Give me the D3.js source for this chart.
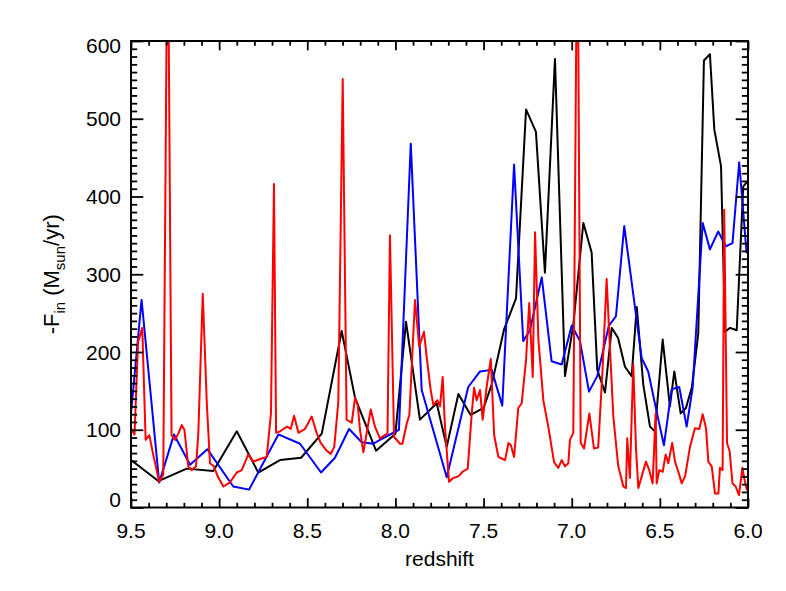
<!DOCTYPE html>
<html>
<head>
<meta charset="utf-8">
<script src="https://cdn.jsdelivr.net/npm/d3@7"></script>
<style>
  body { margin: 0; background: #fff; }
  text { font-family: "Liberation Sans", Arial, Helvetica, sans-serif; fill: #000; }
</style>
</head>
<body>
<svg id="chart"></svg>
<script>
// --- data (redshift, -F_in in Msun/yr) ---
const blackZ = [9.50, 9.345, 9.184, 9.033, 8.90, 8.778, 8.655, 8.535, 8.418, 8.305, 8.229, 8.110, 8.00, 7.94, 7.861, 7.766, 7.709, 7.643, 7.573, 7.50, 7.454, 7.384, 7.316, 7.259, 7.203, 7.152, 7.095, 7.038, 6.991, 6.934, 6.887, 6.855, 6.811, 6.773, 6.737, 6.698, 6.66, 6.631, 6.594, 6.556, 6.528, 6.484, 6.443, 6.418, 6.382, 6.352, 6.318, 6.282, 6.25, 6.216, 6.191, 6.153, 6.13, 6.102, 6.064, 6.027, 6.00];
const blackF = [61, 34, 50, 47, 98, 45, 61, 64, 95, 227, 141, 73, 95, 239, 113, 134, 78, 146, 119, 128, 158, 229, 269, 512, 483, 302, 577, 169, 235, 366, 328, 177, 148, 231, 218, 181, 169, 258, 158, 104, 98, 216, 130, 175, 121, 128, 155, 224, 575, 583, 486, 439, 226, 231, 228, 413, 420];

const blueZ = [9.50, 9.44, 9.34, 9.256, 9.165, 9.067, 8.92, 8.83, 8.664, 8.541, 8.422, 8.343, 8.263, 8.191, 8.126, 8.088, 7.98, 7.913, 7.851, 7.709, 7.587, 7.52, 7.454, 7.394, 7.327, 7.275, 7.237, 7.17, 7.114, 7.057, 7.0, 6.953, 6.902, 6.855, 6.789, 6.749, 6.702, 6.603, 6.566, 6.518, 6.477, 6.433, 6.39, 6.348, 6.314, 6.257, 6.216, 6.169, 6.125, 6.088, 6.05, 6.008];
const blueF = [121, 267, 32, 94, 55, 75, 27, 23, 94, 82, 45, 64, 101, 84, 82, 87, 100, 468, 151, 39, 155, 175, 177, 131, 441, 214, 228, 296, 188, 184, 234, 214, 149, 169, 234, 246, 362, 192, 175, 123, 80, 152, 155, 104, 154, 366, 332, 355, 336, 340, 444, 327];

const redZ = [9.500, 9.480, 9.460, 9.436, 9.417, 9.396, 9.374, 9.340, 9.317, 9.292, 9.270, 9.250, 9.230, 9.212, 9.197, 9.175, 9.156, 9.131, 9.118, 9.093, 9.070, 9.052, 9.030, 9.008, 8.976, 8.940, 8.900, 8.872, 8.835, 8.806, 8.759, 8.730, 8.706, 8.689, 8.677, 8.655, 8.636, 8.613, 8.594, 8.575, 8.550, 8.513, 8.475, 8.447, 8.424, 8.394, 8.367, 8.347, 8.324, 8.299, 8.277, 8.248, 8.229, 8.214, 8.201, 8.182, 8.140, 8.116, 8.088, 8.060, 8.045, 8.031, 8.008, 7.974, 7.960, 7.936, 7.921, 7.889, 7.865, 7.838, 7.823, 7.800, 7.785, 7.762, 7.747, 7.732, 7.719, 7.696, 7.672, 7.643, 7.619, 7.590, 7.567, 7.554, 7.539, 7.520, 7.505, 7.482, 7.459, 7.440, 7.416, 7.397, 7.378, 7.359, 7.345, 7.327, 7.303, 7.284, 7.259, 7.241, 7.221, 7.208, 7.189, 7.161, 7.133, 7.100, 7.076, 7.057, 7.038, 7.019, 7.010, 6.991, 6.968, 6.949, 6.930, 6.900, 6.874, 6.850, 6.825, 6.802, 6.783, 6.764, 6.736, 6.707, 6.692, 6.685, 6.670, 6.651, 6.635, 6.622, 6.603, 6.579, 6.560, 6.541, 6.524, 6.518, 6.503, 6.484, 6.467, 6.452, 6.430, 6.414, 6.395, 6.376, 6.357, 6.329, 6.301, 6.276, 6.257, 6.238, 6.225, 6.206, 6.187, 6.168, 6.159, 6.144, 6.135, 6.119, 6.104, 6.088, 6.070, 6.051, 6.032, 6.019, 6.006];
const redF = [102, 94, 213, 231, 87, 93, 68, 33, 42, 800, 93, 87, 96, 106, 100, 53, 48, 53, 96, 275, 134, 57, 53, 40, 27, 32, 45, 48, 68, 59, 63, 65, 121, 416, 96, 98, 101, 104, 101, 118, 96, 101, 117, 96, 83, 74, 69, 78, 136, 551, 113, 109, 141, 132, 100, 71, 126, 104, 89, 93, 95, 350, 91, 82, 82, 108, 119, 267, 207, 226, 194, 151, 132, 138, 130, 168, 104, 33, 38, 40, 46, 50, 121, 154, 138, 151, 113, 156, 191, 93, 65, 63, 61, 83, 80, 65, 128, 134, 190, 263, 168, 354, 216, 138, 104, 58, 51, 61, 53, 57, 87, 96, 800, 83, 76, 121, 76, 77, 177, 294, 205, 117, 53, 27, 25, 89, 38, 184, 74, 25, 40, 59, 48, 31, 121, 31, 48, 46, 68, 57, 83, 59, 46, 31, 40, 78, 102, 101, 120, 102, 59, 53, 18, 18, 51, 48, 383, 83, 72, 31, 27, 16, 51, 35, 22];

const xTicks = [9.5, 9.0, 8.5, 8.0, 7.5, 7.0, 6.5, 6.0];
const yTicks = [0, 100, 200, 300, 400, 500, 600];

const series = [
  { z: blackZ, f: blackF, color: "#000000" },
  { z: blueZ, f: blueF, color: "#0000ff" },
  { z: redZ, f: redF, color: "#ff0000" }
];

// --- layout ---
const W = 786, H = 591;
const plot = { left: 131, right: 748, top: 41, bottom: 507.5 };
const pw = plot.right - plot.left, ph = plot.bottom - plot.top;
const fontSize = 21;

const svg = d3.select("#chart").attr("width", W).attr("height", H);

const x = d3.scaleLinear().domain([9.5, 6.0]).range([plot.left, plot.right]);
const y = d3.scaleLinear().domain([0, 600]).range([plot.bottom, plot.top]);

svg.append("clipPath").attr("id", "clip")
  .append("rect")
  .attr("x", plot.left).attr("y", plot.top)
  .attr("width", pw).attr("height", ph);

// --- data lines ---
const line = d3.line()
  .x(d => x(d[0]))
  .y(d => y(d[1]));

svg.append("g").attr("clip-path", "url(#clip)")
  .selectAll("path")
  .data(series)
  .join("path")
  .attr("d", s => line(s.z.map((z, i) => [z, s.f[i]])))
  .attr("fill", "none")
  .attr("stroke", s => s.color)
  .attr("stroke-width", 2)
  .attr("stroke-linejoin", "round");

// --- axes: IDL style, ticks pointing inwards on all four sides ---
const xMinor = d3.range(95, 59, -1).map(v => v / 10).filter(v => !xTicks.some(t => Math.abs(t - v) < 1e-6));
const yMinor = d3.range(0, 601, 10).filter(v => v % 100 !== 0);
const xLen = 0.02 * ph, yLen = 0.02 * pw;

function drawAxis(axisFn, scale, major, minor, len, transform) {
  const g = svg.append("g").attr("transform", transform);
  g.call(axisFn(scale).tickValues(major).tickSizeInner(-len).tickSizeOuter(0).tickFormat(""));
  g.append("g").call(axisFn(scale).tickValues(minor).tickSizeInner(-len / 2).tickSizeOuter(0).tickFormat(""));
  g.selectAll("path").remove();
  g.selectAll("line").attr("stroke", "#000").attr("stroke-width", 1.8);
}
drawAxis(d3.axisBottom, x, xTicks, xMinor, xLen, `translate(0,${plot.bottom})`);
drawAxis(d3.axisTop, x, xTicks, xMinor, xLen, `translate(0,${plot.top})`);
drawAxis(d3.axisLeft, y, yTicks, yMinor, yLen, `translate(${plot.left},0)`);
drawAxis(d3.axisRight, y, yTicks, yMinor, yLen, `translate(${plot.right},0)`);

svg.append("rect")
  .attr("x", plot.left).attr("y", plot.top)
  .attr("width", pw).attr("height", ph)
  .attr("fill", "none").attr("stroke", "#000").attr("stroke-width", 2);

// tick labels
svg.append("g").selectAll("text")
  .data(xTicks)
  .join("text")
  .attr("x", d => x(d))
  .attr("y", 538)
  .attr("text-anchor", "middle")
  .attr("font-size", fontSize)
  .text(d => d.toFixed(1));

svg.append("g").selectAll("text")
  .data(yTicks)
  .join("text")
  .attr("x", 121)
  .attr("y", d => Math.min(Math.max(y(d) + 7.5, 53), 507))
  .attr("text-anchor", "end")
  .attr("font-size", fontSize)
  .text(d => d);

// axis titles
svg.append("text")
  .attr("x", x(7.75))
  .attr("y", 566)
  .attr("text-anchor", "middle")
  .attr("font-size", fontSize)
  .text("redshift");

const yTitle = svg.append("text")
  .attr("transform", `translate(59,${(plot.top + plot.bottom) / 2}) rotate(-90)`)
  .attr("text-anchor", "middle")
  .attr("font-size", 22);
yTitle.append("tspan").text("-F");
yTitle.append("tspan").attr("font-size", 15).attr("dy", 6).text("in");
yTitle.append("tspan").attr("dy", -6).text(" (M");
yTitle.append("tspan").attr("font-size", 15).attr("dy", 6).text("sun");
yTitle.append("tspan").attr("dy", -6).text("/yr)");
</script>
</body>
</html>
